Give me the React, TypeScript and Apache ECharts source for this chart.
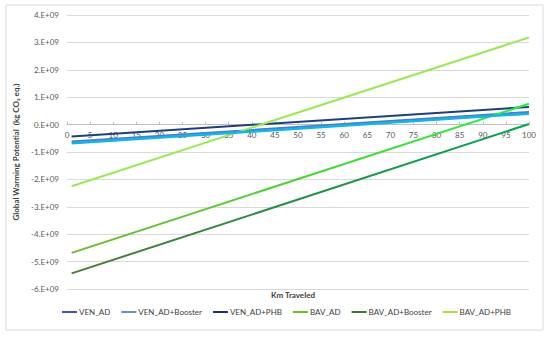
import React, { useEffect, useRef } from "react";
import * as echarts from "echarts";

const kmRange = [1, 100];
const seriesNames = ["VEN_AD", "VEN_AD+Booster", "VEN_AD+PHB", "BAV_AD", "BAV_AD+Booster", "BAV_AD+PHB"];
const venAD = [-0.62e9, 0.46e9];
const venADBooster = [-0.68e9, 0.4e9];
const venADPHB = [-0.43e9, 0.645e9];
const bavAD = [-4.68e9, 0.76e9];
const bavADBooster = [-5.43e9, 0.02e9];
const bavADPHB = [-2.25e9, 3.18e9];
const xTicks = { min: 0, max: 100, interval: 5 };
const yTicks = { min: -6e9, max: 4e9, interval: 1e9 };

const FONT = "Lato, 'Open Sans', sans-serif";
const GRID = { left: 67, right: 21, top: 15, bottom: 49 };
const H = 338;

function fmtY(v: number) {
  if (v === 0) return "0.E+00";
  const n = Math.round(v / 1e9);
  return `${n}.E+09`;
}

export default function App() {
  const ref = useRef<HTMLDivElement>(null);
  useEffect(() => {
    if (!ref.current) return;
    const chart = echarts.init(ref.current, null, { renderer: "svg" });
    const all = [venAD, venADBooster, venADPHB, bavAD, bavADBooster, bavADPHB];
    const lineColors: any[] = [
      "#4A7BD0",
      "#14B4E4",
      "#1F3F7A",
      new echarts.graphic.LinearGradient(0, 0, 1, 0, [
        { offset: 0, color: "#72B82C" },
        { offset: 1, color: "#1EF040" },
      ]),
      new echarts.graphic.LinearGradient(0, 0, 1, 0, [
        { offset: 0, color: "#4E7A36" },
        { offset: 1, color: "#00A550" },
      ]),
      "#9BE856",
    ];
    const legendColors = ["#3F4FCF", "#6A8FD8", "#1F2A7A", "#6BBF26", "#3E7A2E", "#A8E03A"];
    const widths = [2, 2.5, 2, 2, 2, 2];
    const series = seriesNames.map((name, i) => ({
      name,
      type: "line",
      showSymbol: false,
      symbol: "none",
      data: kmRange.map((k, j) => [k, all[i][j]]),
      lineStyle: { color: lineColors[i], width: widths[i] },
      itemStyle: { color: legendColors[i] },
      z: i === 1 ? 3 : 2,
    }));
    // place the x axis on the y = 0 line
    const plotH = H - GRID.top - GRID.bottom;
    const zeroFrac = (yTicks.max - 0) / (yTicks.max - yTicks.min);
    const zeroOffset = -(plotH * (1 - zeroFrac));
    chart.setOption({
      animation: false,
      backgroundColor: "#fff",
      grid: GRID,
      xAxis: {
        type: "value",
        position: "bottom",
        offset: zeroOffset,
        min: xTicks.min,
        max: xTicks.max,
        interval: xTicks.interval,
        z: 1,
        axisLine: { onZero: false, lineStyle: { color: "#BFBFBF", width: 1 } },
        axisTick: { show: true, inside: true, length: 3, lineStyle: { color: "#BFBFBF" } },
        axisLabel: { color: "#595959", fontSize: 8, fontFamily: FONT, margin: 6 },
        splitLine: { show: false },
      },
      yAxis: {
        type: "value",
        min: yTicks.min,
        max: yTicks.max,
        interval: yTicks.interval,
        axisLine: { show: false, onZero: false },
        axisTick: { show: false },
        axisLabel: { color: "#595959", fontSize: 8, fontFamily: FONT, formatter: fmtY, margin: 8 },
        splitLine: { lineStyle: { color: "#D9D9D9", width: 1 } },
        name: "Global Warming Potential  (kg CO\u2082 eq.)",
        nameLocation: "middle",
        nameGap: 44,
        nameTextStyle: { color: "#404040", fontSize: 8, fontFamily: FONT, fontWeight: "bold" },
      },
      legend: {
        left: 57,
        top: 303,
        itemWidth: 15,
        itemHeight: 2,
        itemGap: 11,
        icon: "rect",
        textStyle: { color: "#404040", fontSize: 8, fontFamily: FONT, padding: [0, 0, 0, -3] },
        data: seriesNames,
      },
      graphic: [
        {
          type: "rect",
          shape: { x: 6, y: 5, width: 537, height: 325 },
          style: { fill: "none", stroke: "#D9D9D9", lineWidth: 1 },
          silent: true,
          z: -1,
        },
        {
          type: "text",
          left: 271,
          top: 291,
          style: { text: "Km Traveled", fill: "#404040", fontSize: 8, fontFamily: FONT, fontWeight: "bold" },
        },
      ],
      series,
    });
    return () => chart.dispose();
  }, []);
  return <div ref={ref} style={{ width: 550, height: 338, position: "absolute", left: 0, top: 0 }} />;
}
